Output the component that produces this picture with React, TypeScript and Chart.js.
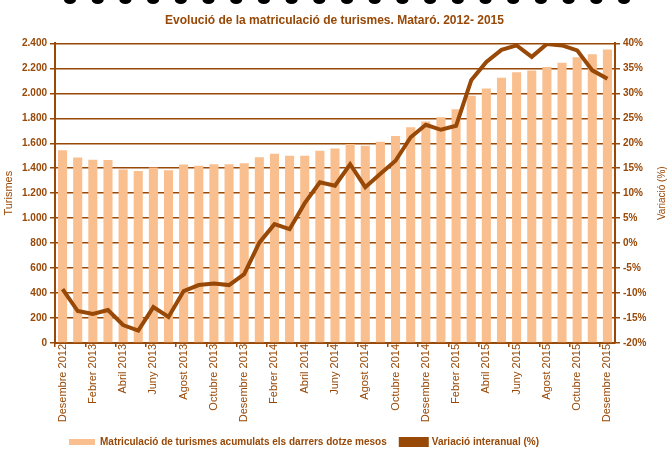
import React, { useEffect, useRef } from "react";
import { Chart, registerables } from "chart.js";

Chart.register(...registerables);

const BROWN = "#984807";
const PEACH = "#FABF8F";

const categories: string[] = [
  "Desembre 2012",
  "Gener 2013", "Febrer 2013", "Març 2013", "Abril 2013", "Maig 2013", "Juny 2013",
  "Juliol 2013", "Agost 2013", "Setembre 2013", "Octubre 2013", "Novembre 2013", "Desembre 2013",
  "Gener 2014", "Febrer 2014", "Març 2014", "Abril 2014", "Maig 2014", "Juny 2014",
  "Juliol 2014", "Agost 2014", "Setembre 2014", "Octubre 2014", "Novembre 2014", "Desembre 2014",
  "Gener 2015", "Febrer 2015", "Març 2015", "Abril 2015", "Maig 2015", "Juny 2015",
  "Juliol 2015", "Agost 2015", "Setembre 2015", "Octubre 2015", "Novembre 2015", "Desembre 2015",
];

const turismes: number[] = [
  1545, 1485, 1468, 1465, 1390, 1377, 1405, 1383, 1430, 1420, 1431, 1431, 1439,
  1487, 1517, 1501, 1501, 1541, 1559, 1595, 1581, 1613, 1659, 1728, 1774,
  1808, 1872, 1980, 2039, 2124, 2169, 2183, 2210, 2245, 2290, 2314, 2352,
];

const variacio: number[] = [
  -9.2, -13.6, -14.2, -13.4, -16.4, -17.5, -12.8, -14.8, -9.6, -8.4, -8.1, -8.4, -6.2,
  0.1, 3.8, 2.8, 8.0, 12.2, 11.5, 15.8, 11.2, 13.9, 16.5, 21.2, 23.7,
  22.7, 23.5, 32.6, 36.3, 38.7, 39.6, 37.3, 39.9, 39.6, 38.6, 34.6, 32.9,
];

const leftTicks = { min: 0, max: 2400, step: 200 };
const rightTicks = { min: -20, max: 40, step: 5 };

const titleText = "Evolució de la matriculació de turismes. Mataró. 2012- 2015";
const barLabel = "Matriculació de turismes acumulats els darrers dotze mesos";
const lineLabel = "Variació interanual (%)";
const leftTitle = "Turismes";
const rightTitle = "Variació (%)";

function fmtThousands(v: number): string {
  const n = Math.round(v);
  if (Math.abs(n) < 1000) return String(n);
  const th = Math.floor(n / 1000);
  const rest = String(n % 1000).padStart(3, "0");
  return `${th}.${rest}`;
}

const rightTitlePlugin = {
  id: "rightTitle",
  afterDraw(chart: any) {
    const { ctx, chartArea } = chart;
    ctx.save();
    ctx.translate(chart.width - 7, (chartArea.top + chartArea.bottom) / 2);
    ctx.rotate(-Math.PI / 2);
    ctx.font = "10px Arial, 'Liberation Sans', sans-serif";
    ctx.fillStyle = BROWN;
    ctx.textAlign = "center";
    ctx.textBaseline = "middle";
    ctx.fillText(rightTitle, 0, 0);
    ctx.restore();
  },
};

const topFragmentsPlugin = {
  id: "topFragments",
  beforeDraw(chart: any) {
    const { ctx } = chart;
    ctx.save();
    ctx.fillStyle = "#000";
    for (let i = 0; i < 21; i++) {
      ctx.beginPath();
      ctx.ellipse(70 + i * 27.7, 0, 6, 4, 0, 0, Math.PI * 2);
      ctx.fill();
    }
    ctx.restore();
  },
};

export default function App() {
  const canvasRef = useRef<HTMLCanvasElement | null>(null);

  useEffect(() => {
    if (!canvasRef.current) return;
    Chart.defaults.font.family = "Arial, 'Liberation Sans', sans-serif";
    const chart = new Chart(canvasRef.current, {
      type: "bar",
      data: {
        labels: categories,
        datasets: [
          {
            type: "bar",
            label: barLabel,
            data: turismes,
            backgroundColor: PEACH,
            borderWidth: 0,
            yAxisID: "y",
            order: 2,
            barPercentage: 0.6,
            categoryPercentage: 1,
          },
          {
            type: "line",
            label: lineLabel,
            data: variacio,
            borderColor: BROWN,
            backgroundColor: BROWN,
            borderWidth: 4,
            pointRadius: 0,
            tension: 0,
            yAxisID: "y1",
            order: 1,
          },
        ] as any,
      },
      options: {
        animation: false,
        responsive: true,
        maintainAspectRatio: false,
        layout: { padding: { left: 0, right: 0, top: 0, bottom: -8 } },
        plugins: {
          tooltip: { enabled: false },
          title: {
            display: true,
            text: titleText,
            color: BROWN,
            font: { size: 12, weight: "bold" },
            padding: { top: 13, bottom: 16 },
          },
          legend: {
            position: "bottom",
            align: "start",
            fullSize: false,
            labels: {
              boxWidth: 26,
              boxHeight: 6,
              padding: 14,
              color: BROWN,
              font: { size: 10, weight: "bold" },
              sort: (a: any, b: any) => a.datasetIndex - b.datasetIndex,
            },
          },
        },
        scales: {
          x: {
            offset: true,
            grid: {
              offset: true,
              drawOnChartArea: false,
              color: (ctx: any) => (ctx.index % 2 === 0 ? BROWN : "rgba(0,0,0,0)"),
              lineWidth: 1.5,
              tickLength: 4,
            },
            border: { color: BROWN, width: 2 },
            ticks: {
              autoSkip: false,
              maxRotation: 90,
              minRotation: 90,
              padding: -3,
              color: BROWN,
              font: { size: 11 },
              callback: (_v: any, i: number) => (i % 2 === 0 ? categories[i] : ""),
            },
            afterFit: (s: any) => {
              s.height = 80;
            },
          },
          y: {
            position: "left",
            min: leftTicks.min,
            max: leftTicks.max,
            ticks: {
              stepSize: leftTicks.step,
              color: BROWN,
              font: { size: 10, weight: "bold" },
              padding: 3,
              callback: (v: any) => fmtThousands(Number(v)),
            },
            grid: { color: BROWN, lineWidth: 1.5, tickLength: 5 },
            border: { color: BROWN, width: 2 },
            title: {
              display: true,
              text: leftTitle,
              color: BROWN,
              font: { size: 11 },
              padding: { top: 2, bottom: 0 },
            },
            afterFit: (s: any) => {
              s.width = 55;
            },
          },
          y1: {
            position: "right",
            min: rightTicks.min,
            max: rightTicks.max,
            ticks: {
              stepSize: rightTicks.step,
              color: BROWN,
              font: { size: 10, weight: "bold" },
              padding: 3,
              callback: (v: any) => `${v}%`,
            },
            grid: { drawOnChartArea: false, color: BROWN, lineWidth: 1.5, tickLength: 5 },
            border: { color: BROWN, width: 2 },
            afterFit: (s: any) => {
              s.width = 54;
            },
          },
        },
      } as any,
      plugins: [rightTitlePlugin, topFragmentsPlugin],
    });
    return () => chart.destroy();
  }, []);

  return (
    <div style={{ position: "absolute", left: 0, top: 0, width: 669, height: 449, background: "#fff" }}>
      <canvas ref={canvasRef} />
    </div>
  );
}
